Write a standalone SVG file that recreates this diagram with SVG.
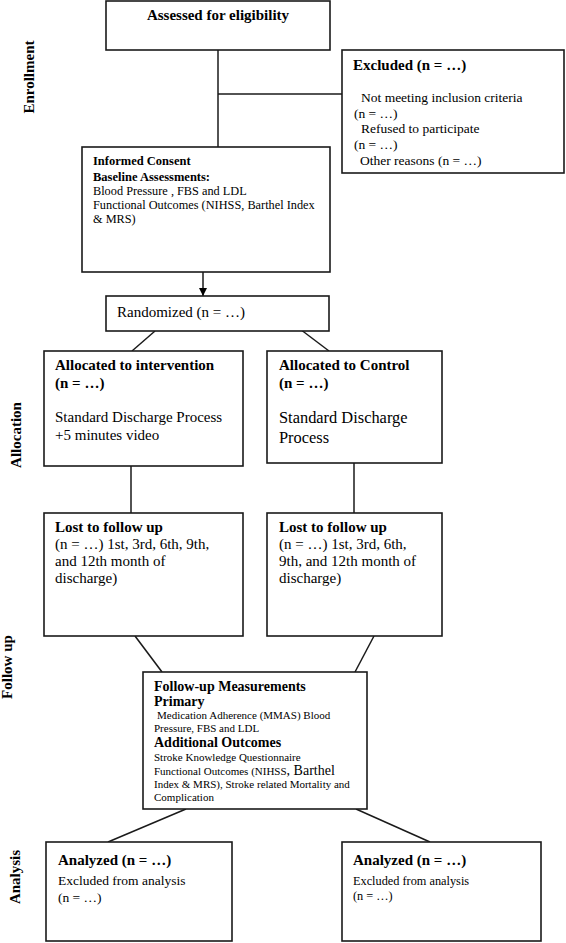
<svg xmlns="http://www.w3.org/2000/svg" width="566" height="943" viewBox="0 0 566 943">
<style>
.box{fill:#fff;stroke:#1a1a1a;stroke-width:1.6}
.ln{stroke:#1a1a1a;stroke-width:1.5;fill:none}
text{font-family:"Liberation Serif","Times New Roman",serif;fill:#000}
.b{font-weight:bold}
.side{font-weight:bold;font-size:15px;text-anchor:middle}
</style>
<defs>
<marker id="arr" markerUnits="userSpaceOnUse" markerWidth="8" markerHeight="8" viewBox="0 0 8 8" refX="8" refY="4" orient="auto">
<path d="M0,0 L8,4 L0,8 z" fill="#000"/>
</marker>
</defs>
<rect width="566" height="943" fill="#fff"/>

<g id="labels">
<text class="side" transform="translate(34,77) rotate(-90)">Enrollment</text>
<text class="side" transform="translate(21,435) rotate(-90)">Allocation</text>
<text class="side" transform="translate(12,667) rotate(-90)">Follow up</text>
<text class="side" transform="translate(20,877) rotate(-90)">Analysis</text>
</g>

<g id="connectors">
<line class="ln" x1="218" y1="50" x2="218" y2="147"/>
<line class="ln" x1="218" y1="94" x2="342" y2="94"/>
<line class="ln" x1="203" y1="272" x2="203" y2="296" stroke-width="2" marker-end="url(#arr)"/>
<line class="ln" x1="155" y1="331" x2="132" y2="351"/>
<line class="ln" x1="292" y1="323" x2="329" y2="351"/>
<line class="ln" x1="131" y1="466" x2="131" y2="513"/>
<line class="ln" x1="354" y1="463" x2="354" y2="513"/>
<line class="ln" x1="135" y1="636" x2="162" y2="672"/>
<line class="ln" x1="374" y1="636" x2="355" y2="672"/>
<line class="ln" x1="186" y1="809" x2="108" y2="842"/>
<line class="ln" x1="356" y1="809" x2="430" y2="842"/>
</g>

<g id="assessed">
<rect class="box" x="106" y="1" width="224" height="49"/>
<text class="b" x="218" y="20" font-size="15" text-anchor="middle">Assessed for eligibility</text>
</g>

<g id="excluded">
<rect class="box" x="342" y="50" width="222" height="123"/>
<text class="b" x="353" y="70" font-size="15">Excluded (n = …)</text>
<text x="361" y="102" font-size="13.5">Not meeting inclusion criteria</text>
<text x="354" y="118" font-size="13.5">(n = …)</text>
<text x="361" y="133" font-size="13.5">Refused to participate</text>
<text x="354" y="149" font-size="13.5">(n = …)</text>
<text x="360" y="165" font-size="13.5">Other reasons (n = …)</text>
</g>

<g id="consent">
<rect class="box" x="82" y="147" width="248" height="125"/>
<text class="b" x="93" y="165" font-size="12.5">Informed Consent</text>
<text class="b" x="93" y="181" font-size="12.5">Baseline Assessments:</text>
<text x="93" y="195" font-size="12.3">Blood Pressure , FBS and LDL</text>
<text x="93" y="209" font-size="12.3">Functional Outcomes (NIHSS, Barthel Index</text>
<text x="93" y="223" font-size="12.3">&amp; MRS)</text>
</g>

<g id="randomized">
<rect class="box" x="106" y="296" width="223" height="35"/>
<text x="117" y="317" font-size="15">Randomized (n = …)</text>
</g>

<g id="intervention">
<rect class="box" x="44" y="351" width="199" height="115"/>
<text class="b" x="55" y="370" font-size="15">Allocated to intervention</text>
<text class="b" x="55" y="388" font-size="15">(n = …)</text>
<text x="55" y="422" font-size="15">Standard Discharge Process</text>
<text x="55" y="440" font-size="15">+5 minutes video</text>
</g>

<g id="control">
<rect class="box" x="267" y="351" width="175" height="112"/>
<text class="b" x="279" y="370" font-size="15">Allocated to Control</text>
<text class="b" x="279" y="388" font-size="15">(n = …)</text>
<text x="279" y="423" font-size="16.4">Standard Discharge</text>
<text x="279" y="443" font-size="16.4">Process</text>
</g>

<g id="lost-intervention">
<rect class="box" x="44" y="513" width="199" height="123"/>
<text class="b" x="55" y="532" font-size="15">Lost to follow up</text>
<text x="55" y="549" font-size="15">(n = …) 1st, 3rd, 6th, 9th,</text>
<text x="55" y="566" font-size="15">and 12th month of</text>
<text x="55" y="583" font-size="15">discharge)</text>
</g>

<g id="lost-control">
<rect class="box" x="267" y="513" width="175" height="123"/>
<text class="b" x="279" y="532" font-size="15">Lost to follow up</text>
<text x="279" y="549" font-size="15">(n = …) 1st, 3rd, 6th,</text>
<text x="279" y="566" font-size="15">9th, and 12th month of</text>
<text x="279" y="583" font-size="15">discharge)</text>
</g>

<g id="followup">
<rect class="box" x="143" y="672" width="224" height="137"/>
<text class="b" x="154" y="691" font-size="14">Follow-up Measurements</text>
<text class="b" x="154" y="706" font-size="14">Primary</text>
<text x="157" y="719" font-size="11">Medication Adherence (MMAS) Blood</text>
<text x="154" y="732" font-size="11">Pressure, FBS and LDL</text>
<text class="b" x="154" y="747" font-size="14">Additional Outcomes</text>
<text x="154" y="761" font-size="11">Stroke Knowledge Questionnaire</text>
<text x="154" y="775" font-size="11">Functional Outcomes (NIHSS<tspan font-size="14">, Barthel</tspan></text>
<text x="154" y="788" font-size="11">Index &amp; MRS), Stroke related Mortality and</text>
<text x="154" y="801" font-size="11">Complication</text>
</g>

<g id="analyzed-intervention">
<rect class="box" x="46" y="842" width="186" height="99"/>
<text class="b" x="58" y="865" font-size="15">Analyzed (n = …)</text>
<text x="58" y="885" font-size="13.5">Excluded from analysis</text>
<text x="58" y="902" font-size="13.5"> (n = …)</text>
</g>

<g id="analyzed-control">
<rect class="box" x="342" y="842" width="199" height="99"/>
<text class="b" x="353" y="865" font-size="15">Analyzed (n = …)</text>
<text x="353" y="885" font-size="12.3">Excluded from analysis</text>
<text x="353" y="900" font-size="12.3">(n = …)</text>
</g>
</svg>
